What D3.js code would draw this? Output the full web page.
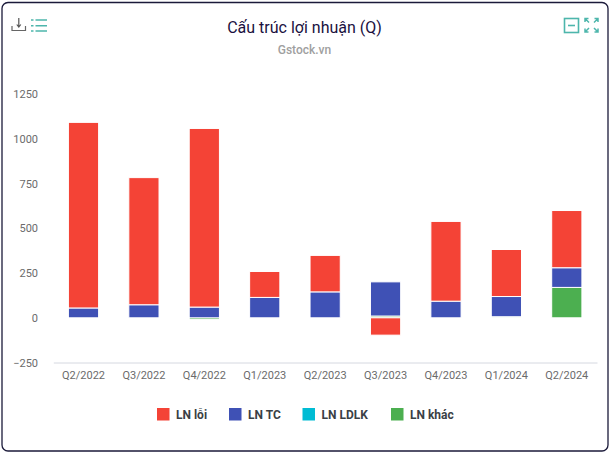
<!DOCTYPE html>
<html>
<head>
<meta charset="utf-8">
<script src="https://cdn.jsdelivr.net/npm/d3@7"></script>
<style>
  html, body { margin: 0; padding: 0; background: #fff; }
  svg { display: block; font-family: Roboto, sans-serif; }
</style>
</head>
<body>
<div id="chart"><svg></svg></div>
<script>
const quarters = ["Q2/2022","Q3/2022","Q4/2022","Q1/2023","Q2/2023","Q3/2023","Q4/2023","Q1/2024","Q2/2024"];
const lnLoi  = [1038, 711, 999, 145, 204, -97, 446, 263, 320];
const lnTC   = [55, 73, 60, 114, 145, 191, 93, 113, 110];
const lnLDLK = [0, 0, 0, 0, 0, 0, 0, 0, 0];
const lnKhac = [0, 0, -10, 0, 0, 10, 0, 6, 170];
const yTicks = [-250, 0, 250, 500, 750, 1000, 1250];

const seriesNames = ["LN lỗi", "LN TC", "LN LDLK", "LN khác"];
const seriesColors = ["#f44336", "#3f51b5", "#00bcd4", "#4caf50"];

const w = 610;
const h = 453;

let svg = d3.select("#chart").select("svg")
	.attr("width", w)
	.attr("height", h);

// card
svg.append("rect")
	.attr("x", 2).attr("y", 2.5)
	.attr("width", 606).attr("height", 448.5)
	.attr("rx", 6)
	.attr("fill", "#fff")
	.attr("stroke", "#1b1a3a")
	.attr("stroke-width", 1.3);

// titles
svg.append("text")
	.attr("x", 304.5).attr("y", 33)
	.attr("text-anchor", "middle")
	.attr("font-size", 16)
	.attr("font-weight", 400)
	.attr("fill", "#1a1040")
	.text("Cấu trúc lợi nhuận (Q)");

svg.append("text")
	.attr("x", 304.5).attr("y", 54)
	.attr("text-anchor", "middle")
	.attr("font-size", 12)
	.attr("font-weight", 500)
	.attr("fill", "#a0a0a0")
	.text("Gstock.vn");

// scales
let x = d3.scaleBand()
	.domain(quarters)
	.range([53.3, 597])
	.paddingInner(0.5)
	.paddingOuter(0.25);

let y = d3.scaleLinear()
	.domain([-250, 1250])
	.range([362.5, 94.3]);

// stacked rows, khác at the bottom of the stack, lỗi on top
let rows = quarters.map((q, i) => ({
	quarter: q,
	"LN lỗi": lnLoi[i],
	"LN TC": lnTC[i],
	"LN LDLK": lnLDLK[i],
	"LN khác": lnKhac[i]
}));

let stack = d3.stack()
	.keys(["LN khác", "LN LDLK", "LN TC", "LN lỗi"])
	.offset(d3.stackOffsetDiverging);

let color = d3.scaleOrdinal().domain(seriesNames).range(seriesColors);

svg.append("g")
	.selectAll("g.layer")
	.data(stack(rows))
	.enter()
	.append("g")
	.attr("class", "layer")
	.attr("fill", d => color(d.key))
	.selectAll("rect")
	.data(d => d)
	.enter()
	.append("rect")
	.attr("x", d => x(d.data.quarter))
	.attr("y", d => y(Math.max(d[0], d[1])))
	.attr("width", x.bandwidth())
	.attr("height", d => Math.abs(y(d[0]) - y(d[1])))
	.attr("stroke", "#fff")
	.attr("stroke-width", 1);

// axes
let xAxis = svg.append("g")
	.attr("transform", "translate(0,362.5)")
	.call(d3.axisBottom(x).tickSize(0).tickPadding(9));
xAxis.select(".domain").attr("stroke", "#d5d8e0").attr("stroke-width", 1);
xAxis.selectAll("text").attr("font-size", 11).attr("font-family", "Roboto, sans-serif").attr("fill", "#6b6b6b");

let yAxis = svg.append("g")
	.attr("transform", "translate(53,0)")
	.call(d3.axisLeft(y).tickValues(yTicks).tickFormat(d3.format("d")).tickSize(0).tickPadding(15));
yAxis.select(".domain").remove();
yAxis.selectAll("text").attr("font-size", 11).attr("font-family", "Roboto, sans-serif").attr("fill", "#6b6b6b");

// legend
const legendX = [157, 229, 302.5, 391];
let legend = svg.append("g")
	.selectAll("g")
	.data(seriesNames)
	.enter()
	.append("g")
	.attr("transform", (d, i) => `translate(${legendX[i]},408)`);

legend.append("rect")
	.attr("width", 12.5).attr("height", 12.5)
	.attr("fill", d => color(d));

legend.append("text")
	.attr("x", 19).attr("y", 10.5)
	.attr("font-size", 12)
	.attr("font-weight", 700)
	.attr("fill", "#3a3f45")
	.text(d => d);

// toolbar icons
let left = svg.append("g").attr("fill", "none");
left.append("path")
	.attr("d", "M12 26V30.5H25.5V26")
	.attr("stroke", "#666").attr("stroke-width", 1.2);
left.append("path")
	.attr("d", "M18.8 18V26.5M16.8 24.5L18.8 27L20.8 24.5")
	.attr("stroke", "#555").attr("stroke-width", 1.2);
[20, 25.7, 31].forEach(ly => {
	left.append("path")
		.attr("d", `M31 ${ly}H33.5M35.5 ${ly}H47`)
		.attr("stroke", "#4db6ac").attr("stroke-width", 1.5);
});

let right = svg.append("g").attr("fill", "none").attr("stroke", "#4db6ac");
right.append("rect")
	.attr("x", 564.5).attr("y", 18.5)
	.attr("width", 14).attr("height", 14)
	.attr("stroke-width", 1.6);
right.append("path")
	.attr("d", "M568 25.5H575")
	.attr("stroke-width", 1.6);
right.append("path")
	.attr("d", "M585 22V18.5H588.5M594.5 18.5H598V22M598 28.5V32H594.5M588.5 32H585V28.5M585.5 19L589 22.5M597.5 19L594 22.5M597.5 31.5L594 28M585.5 31.5L589 28")
	.attr("stroke-width", 1.5);
</script>
</body>
</html>
